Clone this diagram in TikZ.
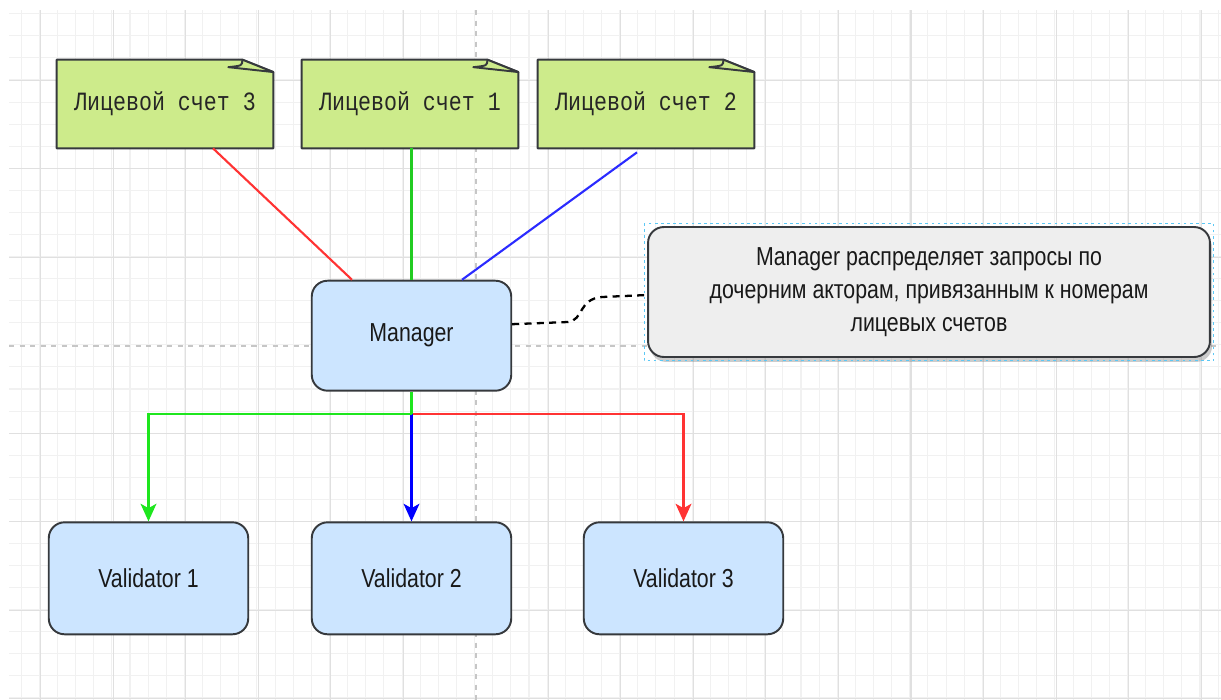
\documentclass[tikz,border=0pt]{standalone}
\usepackage{fontspec}
\setmainfont{Liberation Sans}[FakeStretch=0.82]
\newfontfamily\accfont{Liberation Mono}[FakeStretch=0.82]
\usetikzlibrary{arrows.meta,calc,shadows,backgrounds}

\definecolor{notegreen}{HTML}{CDEB8B}
\definecolor{boxblue}{HTML}{CCE5FF}
\definecolor{edgegray}{HTML}{36393D}
\definecolor{callgray}{HTML}{EEEEEE}
\definecolor{linered}{HTML}{FF3333}
\definecolor{linegreen}{HTML}{1EE61E}
\definecolor{topgreen}{HTML}{22CC22}
\definecolor{lineblue}{HTML}{0000FF}
\definecolor{topblue}{HTML}{2B2BFF}
\definecolor{gridminor}{HTML}{F1F1F1}
\definecolor{gridmajor}{HTML}{E0E0E0}
\definecolor{selblue}{HTML}{5CC8F5}

\begin{document}
\begin{tikzpicture}[
            x=0.02cm, y=-0.02cm,
            minor grid/.style={gridminor, line width=0.6pt},
            major grid/.style={gridmajor, line width=0.6pt},
            page line/.style={gray!45, line width=0.6pt, dash pattern=on 3pt off 3pt},
            account/.style={font=\accfont\fontsize{15}{18}\selectfont, text=black!85,
                minimum width=4.32cm, minimum height=1.76cm, inner sep=0pt},
            note line/.style={draw=edgegray, fill=notegreen, line width=1.1pt, line join=round},
            actor/.style={draw=edgegray, fill=boxblue, line width=1.1pt, rounded corners=9pt,
                minimum width=3.99cm, minimum height=2.2cm, inner sep=0pt,
                font=\fontsize{14.8}{17}\selectfont, text=black!90},
            comment/.style={draw=edgegray, fill=callgray, line width=1.1pt, rounded corners=9pt,
                minimum width=11.24cm, minimum height=2.6cm, inner sep=0pt, align=center,
                font=\fontsize{14.8}{18.7}\selectfont, text=black!90,
                drop shadow={shadow xshift=1.2pt, shadow yshift=-2.8pt, opacity=0.4, fill=gray}},
            selbox/.style={selblue, line width=0.6pt, dash pattern=on 1.5pt off 2pt},
            link/.style={line width=1.2pt},
            route/.style={line width=1.3pt, -{Stealth[length=10pt, width=9pt, inset=2.5pt]}},
            remark/.style={line width=1.3pt, dash pattern=on 4pt off 3pt}
            ]

            \useasboundingbox (0,0) rectangle (1221,700);

            % grid
            \begin{scope}[on background layer]
            \fill[white] (0,0) rectangle (1221,700);
            \foreach \i in {0,...,66} \draw[minor grid] ({21.2+18.135*\i},10) -- ({21.2+18.135*\i},700);
            \foreach \i in {0,...,31} \draw[minor grid] (9,{13.8+22.07*\i}) -- (1221,{13.8+22.07*\i});
            \foreach \i in {0,...,5,7,8,...,16} \draw[major grid] ({40.5+72.54*\i},10) -- ({40.5+72.54*\i},700);
            \foreach \i in {0,1,2,4,5,6,7} \draw[major grid] (9,{80.5+88.29*\i}) -- (1221,{80.5+88.29*\i});
            \draw[page line] (476,10) -- (476,700);
            \draw[page line] (9,346) -- (1221,346);
            \end{scope}

            % accounts
            \node[account] (acc3) at (165,104) {Лицевой счет 3};
            \node[account] (acc1) at (410,104) {Лицевой счет 1};
            \node[account] (acc2) at (646,104) {Лицевой счет 2};

            \begin{scope}[on background layer]
            \foreach \acc in {acc3,acc1,acc2} {
                \draw[note line] (\acc.south west) -- (\acc.north west) -- ($(\acc.north east)+(-31,0)$)
                    -- ($(\acc.north east)+(0,12.4)$) -- (\acc.south east) -- cycle;
                \draw[note line] ($(\acc.north east)+(-31,0)$) .. controls ($(\acc.north east)+(-31,6)$)
                    .. ($(\acc.north east)+(-45,7.5)$) -- ($(\acc.north east)+(0,12.4)$) -- cycle;
            }
            \end{scope}

            % actors
            \node[actor] (mgr) at (411.5,335.7) {Manager};
            \node[actor, minimum height=2.24cm] (val1) at (148.5,578.3) {Validator 1};
            \node[actor, minimum height=2.24cm] (val2) at (411.5,578.3) {Validator 2};
            \node[actor, minimum height=2.24cm] (val3) at (683.5,578.3) {Validator 3};

            % comment
            \node[comment] (call) at (929,292) {Manager распределяет запросы по\\
                дочерним акторам, привязанным к номерам\\лицевых счетов};
            \draw[selbox] ($(call.north west)+(-3,-3)$) rectangle ($(call.south east)+(3,3)$);

            % links to accounts
            \draw[link, linered] ($(acc3.south)+(48,0)$) -- ($(mgr.north)+(-59.5,0)$);
            \draw[link, topgreen] (acc1.south -| mgr.north) -- (mgr.north);
            \draw[link, topblue] ($(acc2.south)+(-9,4)$) -- ($(mgr.north)+(50.5,0)$);

            % routes to validators
            \coordinate (split) at ($(mgr.south)+(0,22.3)$);
            \draw[route, linered] (split) -| (val3.north);
            \draw[route, lineblue] (split) -- (val2.north);
            \draw[route, linegreen] (split) -| (val1.north);
            \draw[link, linegreen, line width=1.3pt] (mgr.south) -- (split);

            % note connector
            \draw[remark] ($(mgr.east)+(0,-11.5)$) -- (568,322) .. controls (584,320) and (578,299)
                .. (602,297) -- ($(call.west)+(0,3)$);

        \end{tikzpicture}
\end{document}
